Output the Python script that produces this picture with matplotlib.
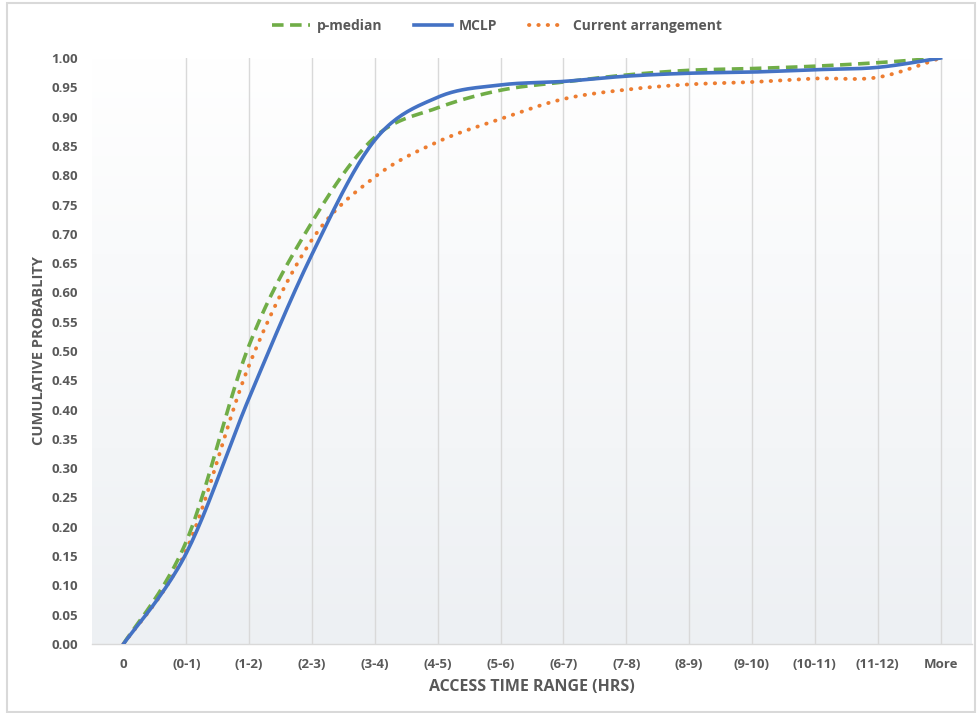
import numpy as np
import matplotlib.pyplot as plt
from matplotlib.patches import Rectangle
from matplotlib.colors import LinearSegmentedColormap

categories = ['0', '(0-1)', '(1-2)', '(2-3)', '(3-4)', '(4-5)', '(5-6)', '(6-7)',
              '(7-8)', '(8-9)', '(9-10)', '(10-11)', '(11-12)', 'More']
p_median = [0.0, 0.175, 0.51, 0.72, 0.865, 0.915, 0.945, 0.959, 0.971, 0.979,
            0.982, 0.986, 0.992, 1.0]
mclp = [0.0, 0.155, 0.42, 0.665, 0.86, 0.933, 0.954, 0.960, 0.969, 0.974,
        0.976, 0.980, 0.984, 1.0]
current = [0.0, 0.16, 0.476, 0.69, 0.797, 0.857, 0.896, 0.930, 0.946, 0.955,
           0.959, 0.965, 0.967, 1.0]

GREY = '#595959'
FONT = 'Open Sans'


def smooth(xs, ys, steps=24):
    # Bezier segments with Catmull-Rom style control points (spreadsheet "smoothed line")
    p = np.column_stack([xs, ys]).astype(float)
    p_ext = np.vstack([p[0], p, p[-1]])
    out = []
    t = np.linspace(0, 1, steps)[:, None]
    for i in range(len(p) - 1):
        p0, p1, p2, p3 = p_ext[i], p_ext[i + 1], p_ext[i + 2], p_ext[i + 3]
        c1 = p1 + (p2 - p0) / 6.0
        c2 = p2 - (p3 - p1) / 6.0
        seg = ((1 - t) ** 3) * p1 + 3 * ((1 - t) ** 2) * t * c1 \
            + 3 * (1 - t) * t ** 2 * c2 + t ** 3 * p2
        out.append(seg if i == 0 else seg[1:])
    seg = np.vstack(out)
    return seg[:, 0], seg[:, 1]


fig = plt.figure(figsize=(9.77, 7.13), dpi=100)
ax = fig.add_axes([92 / 977, 1 - 644 / 713, (972 - 92) / 977, (644 - 58) / 713])

x = np.arange(len(categories))

# plot area background: white at the top fading to a pale grey-blue
grad = LinearSegmentedColormap.from_list('bg', ['#ffffff', '#edf0f3'])
ax.imshow(np.linspace(0, 1, 256)[:, None], cmap=grad, aspect='auto', origin='upper',
          extent=[-0.5, len(categories) - 0.5, 0.0, 1.0], zorder=0)
ax.set_xlim(-0.5, len(categories) - 0.5)
ax.set_ylim(0, 1.0)

for xi in x[1:]:
    ax.axvline(xi, color='#d9d9d9', lw=1.0, zorder=1)

xs, ys = smooth(x, p_median)
ax.plot(xs, ys, color='#70ad47', lw=2.6, ls=(0, (3.2, 1.8)), label='p-median', zorder=3)
xs, ys = smooth(x, mclp)
ax.plot(xs, ys, color='#4472c4', lw=2.6, label='MCLP', zorder=4)
xs, ys = smooth(x, current)
ax.plot(xs, ys, color='#ed7d31', lw=2.8, ls=(0, (0.1, 2.3)), dash_capstyle='round',
        label='Current arrangement', zorder=3)

for side in ['top', 'right', 'left']:
    ax.spines[side].set_visible(False)
ax.spines['bottom'].set_color('#d9d9d9')
ax.spines['bottom'].set_linewidth(1.0)

ax.set_xticks(x)
ax.set_xticklabels(categories)
ax.set_yticks(np.arange(0, 1.0001, 0.05))
ax.set_yticklabels([f'{v:.2f}' for v in np.arange(0, 1.0001, 0.05)])
ax.tick_params(length=0, pad=10, labelsize=9.5, labelcolor=GREY)
for lab in ax.get_xticklabels() + ax.get_yticklabels():
    lab.set_fontfamily(FONT)
    lab.set_fontweight('bold')

ax.set_xlabel('ACCESS TIME RANGE (HRS)', fontsize=11.5, color=GREY,
              fontfamily=FONT, fontweight='bold', labelpad=6)
ax.set_ylabel('CUMULATIVE PROBABLITY', fontsize=10.5, color=GREY,
              fontfamily=FONT, fontweight='bold', labelpad=4)

leg = fig.legend(loc='center', bbox_to_anchor=(0.509, 1 - 26 / 713), ncol=3,
                 frameon=False, handlelength=2.7, columnspacing=2.3, handletextpad=0.5,
                 prop={'family': FONT, 'weight': 'bold', 'size': 10})
for t in leg.get_texts():
    t.set_color(GREY)

fig.patches.append(Rectangle((7 / 977, 1 / 713), 968 / 977, 709 / 713,
                             transform=fig.transFigure, fill=False,
                             edgecolor='#d9d9d9', lw=1.5))

fig.savefig('out.png', dpi=100)
